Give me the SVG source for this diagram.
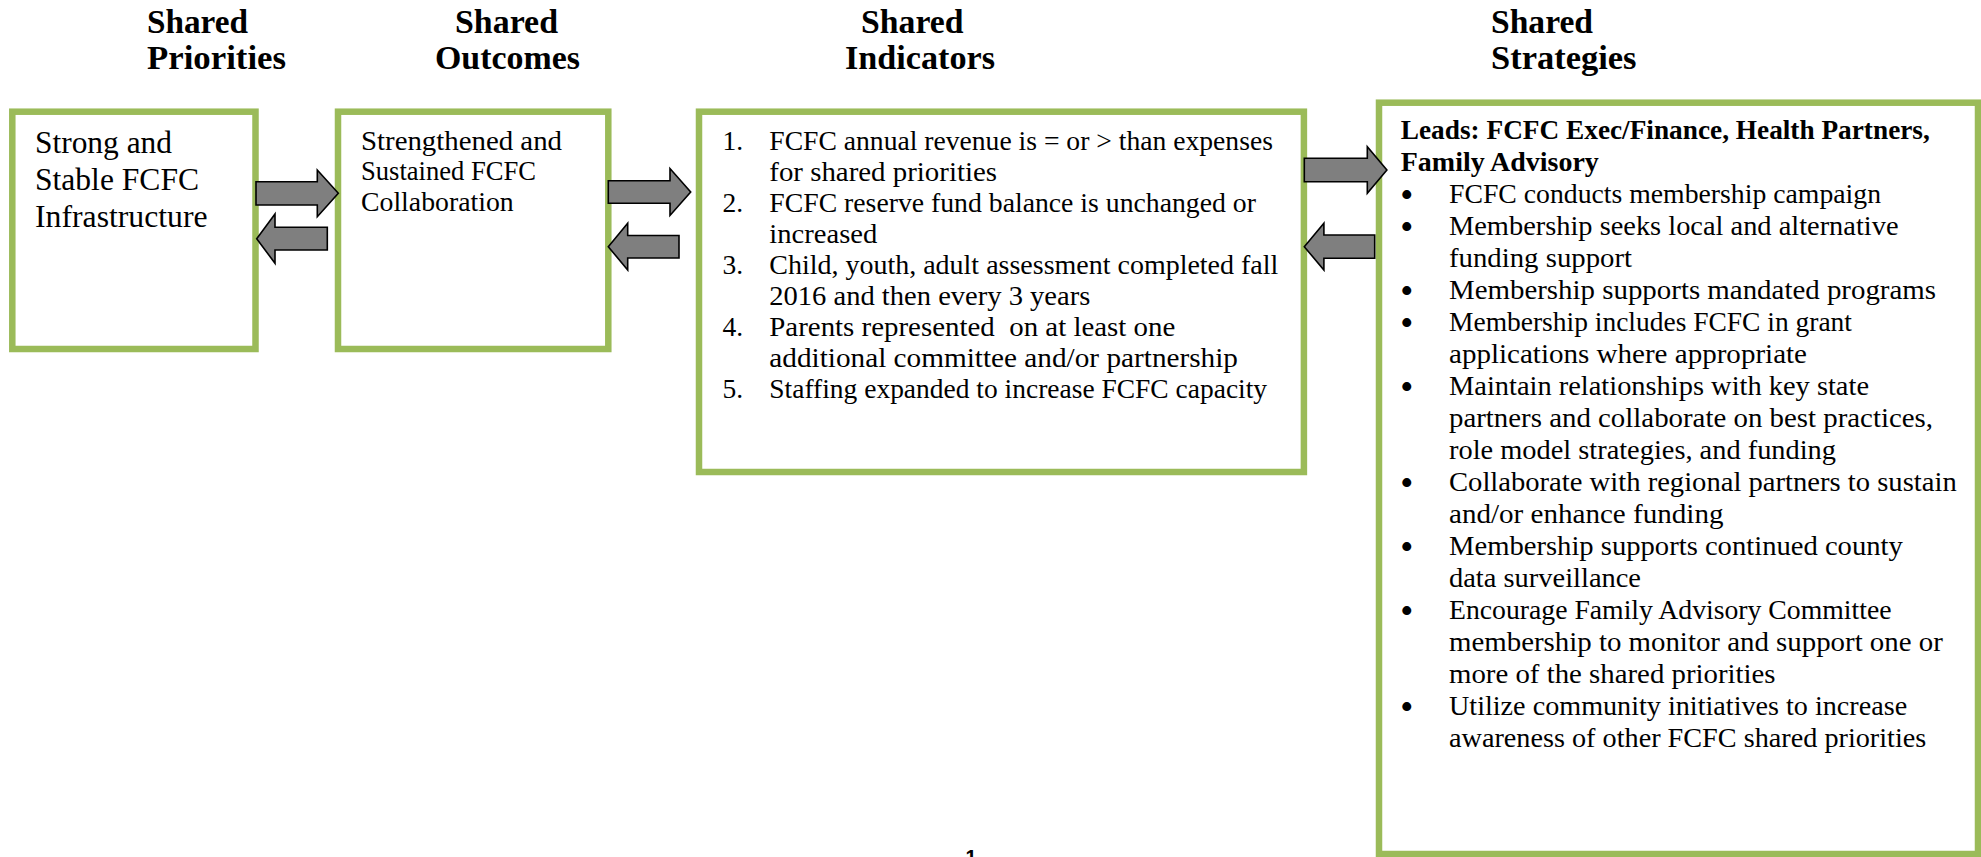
<svg xmlns="http://www.w3.org/2000/svg" width="1981" height="857" viewBox="0 0 1981 857">
<style>
.box{fill:#fff;stroke:#9BBB59;stroke-width:6.5}
.ttl{font-family:"Liberation Serif",serif;font-weight:bold;font-size:33px;fill:#000}
.t1{font-family:"Liberation Serif",serif;font-size:31.5px;fill:#000}
.t2{font-family:"Liberation Serif",serif;font-size:27px;fill:#000}
.t3{font-family:"Liberation Serif",serif;font-size:27.5px;fill:#000}
.b3{font-family:"Liberation Serif",serif;font-size:27.5px;font-weight:bold;fill:#000}
.bul{font-family:"Liberation Serif",serif;font-size:30px;fill:#000;stroke:#000;stroke-width:1.8}
.pg{font-family:"Liberation Sans",sans-serif;font-size:20px;font-weight:bold;fill:#000}
.arr{fill:#7F7F7F;stroke:#000;stroke-width:1.6;stroke-linejoin:miter}
</style>
<rect width="1981" height="857" fill="#fff"/>
<g id="titles">
<text class="ttl" x="147" y="33" textLength="101" lengthAdjust="spacingAndGlyphs">Shared</text>
<text class="ttl" x="147" y="68.5" textLength="139" lengthAdjust="spacingAndGlyphs">Priorities</text>
<text class="ttl" x="455" y="33" textLength="103" lengthAdjust="spacingAndGlyphs">Shared</text>
<text class="ttl" x="435" y="68.5" textLength="145" lengthAdjust="spacingAndGlyphs">Outcomes</text>
<text class="ttl" x="861" y="33" textLength="102.5" lengthAdjust="spacingAndGlyphs">Shared</text>
<text class="ttl" x="845" y="68.5" textLength="150" lengthAdjust="spacingAndGlyphs">Indicators</text>
<text class="ttl" x="1491" y="33" textLength="102" lengthAdjust="spacingAndGlyphs">Shared</text>
<text class="ttl" x="1491" y="68.5" textLength="145.5" lengthAdjust="spacingAndGlyphs">Strategies</text>
</g>
<g id="priorities">
<rect class="box" x="12.3" y="111.7" width="243.2" height="237.3"/>
<text class="t1" x="35" y="153.3" textLength="137" lengthAdjust="spacingAndGlyphs">Strong and</text>
<text class="t1" x="35" y="190" textLength="164" lengthAdjust="spacingAndGlyphs">Stable FCFC</text>
<text class="t1" x="35" y="227.3" textLength="172.6" lengthAdjust="spacingAndGlyphs">Infrastructure</text>
</g>
<g id="outcomes">
<rect class="box" x="338" y="111.7" width="270.3" height="237.3"/>
<text class="t2" x="361" y="150" textLength="201" lengthAdjust="spacingAndGlyphs">Strengthened and</text>
<text class="t2" x="361" y="180" textLength="175" lengthAdjust="spacingAndGlyphs">Sustained FCFC</text>
<text class="t2" x="361" y="210.5" textLength="152.7" lengthAdjust="spacingAndGlyphs">Collaboration</text>
</g>
<g id="indicators">
<rect class="box" x="699" y="111.7" width="604.9" height="360.3"/>
<text class="t3" x="722.4" y="150">1.</text>
<text class="t3" x="769.3" y="150" textLength="503.6" lengthAdjust="spacingAndGlyphs">FCFC annual revenue is = or &gt; than expenses</text>
<text class="t3" x="769.3" y="181" textLength="227.7" lengthAdjust="spacingAndGlyphs">for shared priorities</text>
<text class="t3" x="722.4" y="212">2.</text>
<text class="t3" x="769.3" y="212" textLength="486.6" lengthAdjust="spacingAndGlyphs">FCFC reserve fund balance is unchanged or</text>
<text class="t3" x="769.3" y="243" textLength="108" lengthAdjust="spacingAndGlyphs">increased</text>
<text class="t3" x="722.4" y="274">3.</text>
<text class="t3" x="769.3" y="274" textLength="509" lengthAdjust="spacingAndGlyphs">Child, youth, adult assessment completed fall</text>
<text class="t3" x="769.3" y="305" textLength="321" lengthAdjust="spacingAndGlyphs">2016 and then every 3 years</text>
<text class="t3" x="722.4" y="336">4.</text>
<text class="t3" x="769.3" y="336" textLength="406" lengthAdjust="spacingAndGlyphs" xml:space="preserve">Parents represented  on at least one</text>
<text class="t3" x="769.3" y="367" textLength="468.7" lengthAdjust="spacingAndGlyphs">additional committee and/or partnership</text>
<text class="t3" x="722.4" y="398">5.</text>
<text class="t3" x="769.3" y="398" textLength="497.8" lengthAdjust="spacingAndGlyphs">Staffing expanded to increase FCFC capacity</text>
</g>
<g id="strategies">
<rect class="box" x="1379" y="102.7" width="599" height="751.3"/>
<text class="b3" x="1400.8" y="139" textLength="529" lengthAdjust="spacingAndGlyphs">Leads: FCFC Exec/Finance, Health Partners,</text>
<text class="b3" x="1400.8" y="171" textLength="198" lengthAdjust="spacingAndGlyphs">Family Advisory</text>
<text class="bul" x="1401.5" y="205">•</text>
<text class="t3" x="1449" y="203" textLength="432" lengthAdjust="spacingAndGlyphs">FCFC conducts membership campaign</text>
<text class="bul" x="1401.5" y="237">•</text>
<text class="t3" x="1449" y="235" textLength="449.5" lengthAdjust="spacingAndGlyphs">Membership seeks local and alternative</text>
<text class="t3" x="1449" y="267" textLength="183" lengthAdjust="spacingAndGlyphs">funding support</text>
<text class="bul" x="1401.5" y="301">•</text>
<text class="t3" x="1449" y="299" textLength="487" lengthAdjust="spacingAndGlyphs">Membership supports mandated programs</text>
<text class="bul" x="1401.5" y="333">•</text>
<text class="t3" x="1449" y="331" textLength="403" lengthAdjust="spacingAndGlyphs">Membership includes FCFC in grant</text>
<text class="t3" x="1449" y="363" textLength="358" lengthAdjust="spacingAndGlyphs">applications where appropriate</text>
<text class="bul" x="1401.5" y="397">•</text>
<text class="t3" x="1449" y="395" textLength="420" lengthAdjust="spacingAndGlyphs">Maintain relationships with key state</text>
<text class="t3" x="1449" y="427" textLength="484" lengthAdjust="spacingAndGlyphs">partners and collaborate on best practices,</text>
<text class="t3" x="1449" y="459" textLength="387" lengthAdjust="spacingAndGlyphs">role model strategies, and funding</text>
<text class="bul" x="1401.5" y="493">•</text>
<text class="t3" x="1449" y="491" textLength="507.7" lengthAdjust="spacingAndGlyphs">Collaborate with regional partners to sustain</text>
<text class="t3" x="1449" y="523" textLength="274.5" lengthAdjust="spacingAndGlyphs">and/or enhance funding</text>
<text class="bul" x="1401.5" y="557">•</text>
<text class="t3" x="1449" y="555" textLength="453.8" lengthAdjust="spacingAndGlyphs">Membership supports continued county</text>
<text class="t3" x="1449" y="587" textLength="192" lengthAdjust="spacingAndGlyphs">data surveillance</text>
<text class="bul" x="1401.5" y="621">•</text>
<text class="t3" x="1449" y="619" textLength="442.5" lengthAdjust="spacingAndGlyphs">Encourage Family Advisory Committee</text>
<text class="t3" x="1449" y="651" textLength="493.8" lengthAdjust="spacingAndGlyphs">membership to monitor and support one or</text>
<text class="t3" x="1449" y="683" textLength="326.6" lengthAdjust="spacingAndGlyphs">more of the shared priorities</text>
<text class="bul" x="1401.5" y="717">•</text>
<text class="t3" x="1449" y="715" textLength="458.2" lengthAdjust="spacingAndGlyphs">Utilize community initiatives to increase</text>
<text class="t3" x="1449" y="747" textLength="477.3" lengthAdjust="spacingAndGlyphs">awareness of other FCFC shared priorities</text>
</g>
<g id="connectors">
<path class="arr" d="M256,181.7 H317.3 V170 L338.3,193.3 L317.3,216.7 V205 H256 Z"/>
<path class="arr" d="M327.3,227.3 H275 V214 L256.7,238.7 L275,263.3 V250 H327.3 Z"/>
<path class="arr" d="M608.3,180.7 H670 V168.5 L690.7,192 L670,215.5 V203.3 H608.3 Z"/>
<path class="arr" d="M679,235.5 H627.7 V223.3 L608.3,246.7 L627.7,270 V258 H679 Z"/>
<path class="arr" d="M1304.3,158.3 H1367.3 V146.7 L1386.9,170 L1367.3,193.3 V181.7 H1304.3 Z"/>
<path class="arr" d="M1374.7,235 H1323.9 V223.3 L1304.3,246.7 L1323.9,270 V258.3 H1374.7 Z"/>
</g>
<text class="pg" x="971" y="864" text-anchor="middle">1</text>
</svg>
